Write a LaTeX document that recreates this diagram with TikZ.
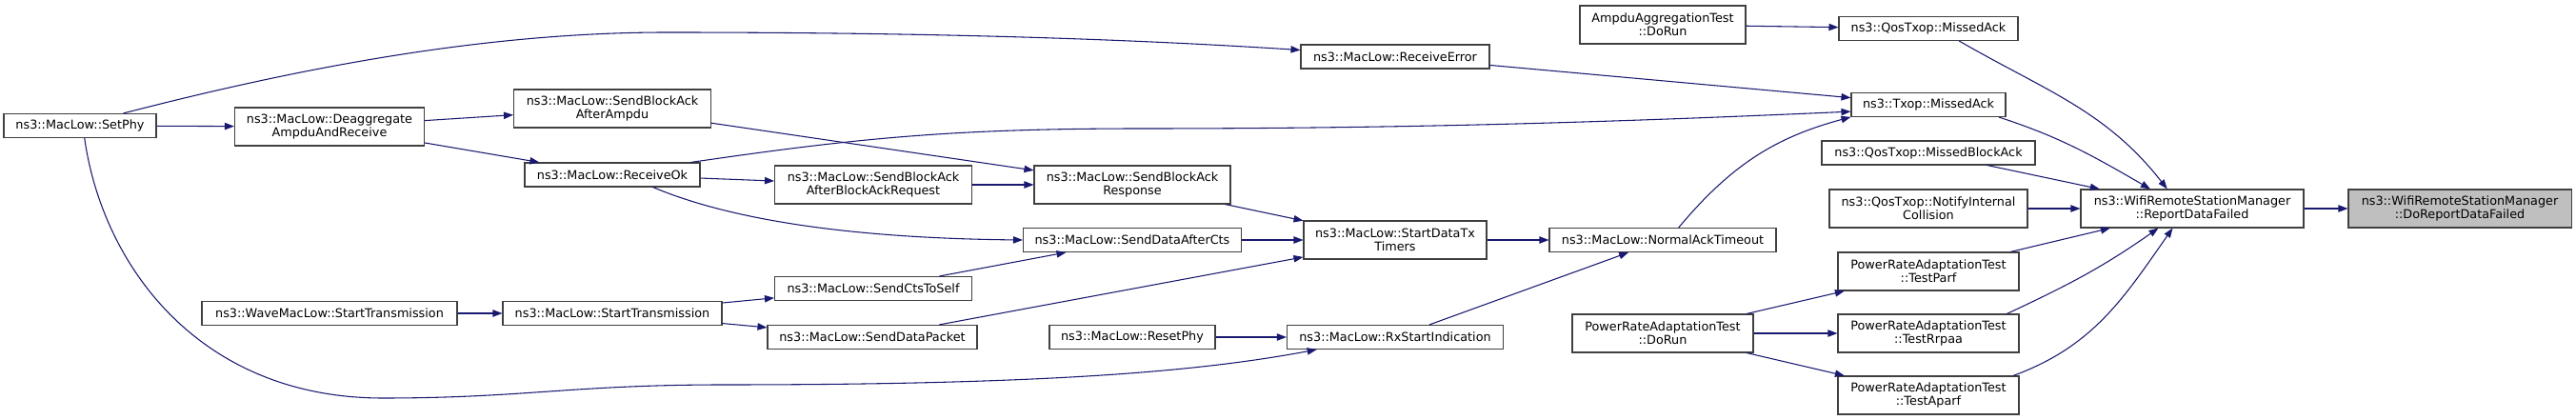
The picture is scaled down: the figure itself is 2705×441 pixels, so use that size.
\documentclass[tikz,border=0pt]{standalone}
\usepackage{fontspec}
\setmainfont{DejaVu Sans}
\usepackage{xcolor}
\usetikzlibrary{positioning, arrows.meta}
\definecolor{callblue}{HTML}{191970}
\definecolor{boxgrey}{HTML}{404040}
\definecolor{hlgrey}{HTML}{BFBFBF}

\tikzset{
  fn/.style={draw=boxgrey, fill=white, line width=0.8pt, inner xsep=2pt, inner ysep=0pt,
             align=center, font=\fontsize{9.6}{10.6}\selectfont, minimum height=18.75pt},
  fntwo/.style={fn, minimum height=30pt},
  call/.style={draw=callblue, line width=0.8pt, -{Triangle[length=7.5pt,width=5.5pt]}}
}

\begin{document}
\begin{tikzpicture}[x=0.75pt, y=-0.75pt]
  \useasboundingbox (0,0) rectangle (2705,441);

  % callers, left to right
  \node[fn, minimum width=120pt] (setphy) at (84,132) {ns3::MacLow::SetPhy};
  \node[fntwo, minimum width=149.25pt] (deagg) at (346,133) {ns3::MacLow::Deaggregate\\AmpduAndReceive};
  \node[fn, minimum width=201pt] (wavestart) at (346,329) {ns3::WaveMacLow::StartTransmission};
  \node[fntwo, minimum width=155.25pt] (sbaampdu) at (643,114) {ns3::MacLow::SendBlockAck\\AfterAmpdu};
  \node[fn, minimum width=138pt] (recvok) at (643,183.5) {ns3::MacLow::ReceiveOk};
  \node[fn, minimum width=172.5pt] (starttx) at (643,329) {ns3::MacLow::StartTransmission};
  \node[fntwo, minimum width=155.25pt] (sbabar) at (917,194) {ns3::MacLow::SendBlockAck\\AfterBlockAckRequest};
  \node[fn, minimum width=155.25pt] (ctsself) at (917,303) {ns3::MacLow::SendCtsToSelf};
  \node[fn, minimum width=165pt] (datapkt) at (916,354) {ns3::MacLow::SendDataPacket};
  \node[fntwo, minimum width=154.5pt] (sbaresp) at (1189,194) {ns3::MacLow::SendBlockAck\\Response};
  \node[fn, minimum width=171.75pt] (dataaftercts) at (1189,252) {ns3::MacLow::SendDataAfterCts};
  \node[fn, minimum width=130.5pt] (resetphy) at (1189,354) {ns3::MacLow::ResetPhy};
  \node[fn, minimum width=148.5pt] (recverr) at (1465,59.5) {ns3::MacLow::ReceiveError};
  \node[fntwo, minimum width=144pt] (datatxtimers) at (1465,252) {ns3::MacLow::StartDataTx\\Timers};
  \node[fn, minimum width=170.25pt] (rxstart) at (1465,354) {ns3::MacLow::RxStartIndication};
  \node[fntwo, minimum width=130.5pt] (ampdurun) at (1746,26) {AmpduAggregationTest\\::DoRun};
  \node[fn, minimum width=178.5pt] (normalack) at (1746,252) {ns3::MacLow::NormalAckTimeout};
  \node[fntwo, minimum width=142.5pt] (praterun) at (1746,350) {PowerRateAdaptationTest\\::DoRun};
  \node[fn, minimum width=141pt] (qosmissed) at (2025,30) {ns3::QosTxop::MissedAck};
  \node[fn, minimum width=121.5pt] (txopmissed) at (2025,110) {ns3::Txop::MissedAck};
  \node[fn, minimum width=168pt] (qosblock) at (2025,160.5) {ns3::QosTxop::MissedBlockAck};
  \node[fntwo, minimum width=156pt] (notify) at (2025,219) {ns3::QosTxop::NotifyInternal\\Collision};
  \node[fntwo, minimum width=142.5pt] (parf) at (2025,285) {PowerRateAdaptationTest\\::TestParf};
  \node[fntwo, minimum width=142.5pt] (rrpaa) at (2025,350) {PowerRateAdaptationTest\\::TestRrpaa};
  \node[fntwo, minimum width=142.5pt] (aparf) at (2025,415) {PowerRateAdaptationTest\\::TestAparf};
  \node[fntwo, minimum width=175.5pt] (report) at (2302,219) {ns3::WifiRemoteStationManager\\::ReportDataFailed};
  \node[fntwo, minimum width=175.5pt, fill=hlgrey] (doreport) at (2583,219) {ns3::WifiRemoteStationManager\\::DoReportDataFailed};

  % calls
  \draw[call] (setphy) -- (deagg);
  \draw[call] (setphy.16) .. controls (300,75) and (500,34) .. (700,34)
    .. controls (1000,34) and (1200,42) .. (recverr.176);
  \draw[call] (setphy.-70) .. controls (108,280) and (210,418) .. (402,418)
    .. controls (550,418) and (600,404) .. (760,404)
    .. controls (1100,404) and (1260,390) .. (rxstart.189);
  \draw[call] (deagg) -- (sbaampdu);
  \draw[call] (deagg) -- (recvok);
  \draw[call] (wavestart) -- (starttx);
  \draw[call] (sbaampdu) -- (sbaresp);
  \draw[call] (recvok) -- (sbabar);
  \draw[call] (recvok.-17) .. controls (760,228) and (880,250) .. (dataaftercts.west);
  \draw[call] (recvok.9) .. controls (900,145) and (1000,135) .. (1200,135)
    .. controls (1500,135) and (1720,127) .. (txopmissed.185);
  \draw[call] (starttx) -- (ctsself);
  \draw[call] (starttx) -- (datapkt);
  \draw[call] (sbabar) -- (sbaresp);
  \draw[call] (ctsself) -- (dataaftercts);
  \draw[call] (datapkt) -- (datatxtimers);
  \draw[call] (sbaresp) -- (datatxtimers);
  \draw[call] (dataaftercts) -- (datatxtimers);
  \draw[call] (resetphy) -- (rxstart);
  \draw[call] (recverr) -- (txopmissed);
  \draw[call] (datatxtimers) -- (normalack);
  \draw[call] (rxstart) -- (normalack);
  \draw[call] (normalack.38) to[out=50, in=195] (txopmissed.189);
  \draw[call] (ampdurun) -- (qosmissed);
  \draw[call] (praterun) -- (parf);
  \draw[call] (praterun) -- (rrpaa);
  \draw[call] (praterun) -- (aparf);
  \draw[call] (qosmissed.-22) to[out=-30, in=128] (report.142);
  \draw[call] (txopmissed.-10) to[out=-18, in=150] (report.155);
  \draw[call] (qosblock) -- (report);
  \draw[call] (notify) -- (report);
  \draw[call] (parf) -- (report);
  \draw[call] (rrpaa.14) to[out=25, in=215] (report.210);
  \draw[call] (aparf.13) to[out=20, in=235] (report.225);
  \draw[call] (report) -- (doreport);
\end{tikzpicture}
\end{document}
